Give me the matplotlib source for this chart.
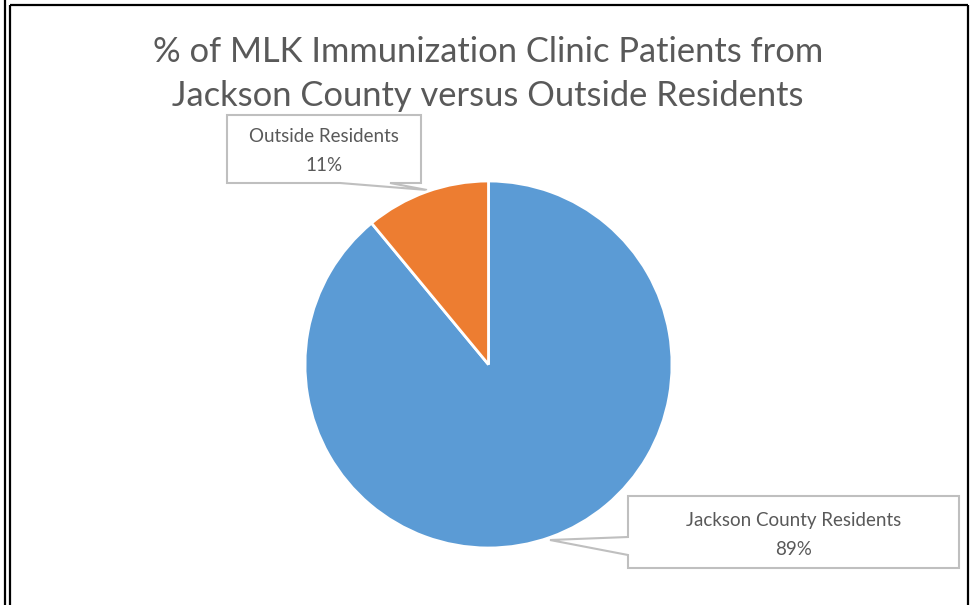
import matplotlib
matplotlib.use("Agg")
import matplotlib.pyplot as plt
from matplotlib.patches import Polygon
from matplotlib.lines import Line2D

labels = ['Jackson County Residents', 'Outside Residents']
shares = [89, 11]
colors = ['#5B9BD5', '#ED7D31']
title = '% of MLK Immunization Clinic Patients from\nJackson County versus Outside Residents'

W, H = 972, 605
TEXT = '#595959'
plt.rcParams['font.family'] = ['Lato', 'DejaVu Sans']

fig = plt.figure(figsize=(W / 100, H / 100), dpi=100)

# overlay in pixel coords (y down) for frame + callouts
ov = fig.add_axes([0, 0, 1, 1])
ov.set_xlim(0, W)
ov.set_ylim(H, 0)
ov.axis('off')

# frame lines
for xs, ys in [([4.5, 4.5], [0, H]), ([9.5, 9.5], [5, H]), ([9.5, 968], [5, 5]), ([968, 968], [5, H])]:
    ov.add_line(Line2D(xs, ys, color='black', lw=1.6, solid_capstyle='butt'))

ov.text(W / 2 + 2, 74, title, ha='center', va='center', fontsize=24.8, color=TEXT, linespacing=1.5)

# pie
cx, cy, r = 488.5, 364.5, 183.5
pax = fig.add_axes([(cx - r) / W, (H - cy - r) / H, 2 * r / W, 2 * r / H])
pax.pie(shares, colors=colors, startangle=90, counterclock=False, radius=1,
        wedgeprops=dict(edgecolor='white', linewidth=2))
pax.set_xlim(-1, 1)
pax.set_ylim(-1, 1)
pax.axis('off')

# callout bubbles
def bubble(pts, text, tx, ty):
    ov.add_patch(Polygon(pts, closed=True, facecolor='white', edgecolor='#BFBFBF', lw=1.5, zorder=3))
    ov.text(tx, ty, text, ha='center', va='center', fontsize=13.5, color=TEXT, linespacing=1.8, zorder=4)

x0, y0, x1, y1 = 227, 115, 421, 183
bubble([(x0, y0), (x1, y0), (x1, y1), (390, y1), (427, 190), (340, y1), (x0, y1)],
       f'{labels[1]}\n{shares[1]}%', (x0 + x1) / 2, (y0 + y1) / 2 + 2)

x0, y0, x1, y1 = 628, 496, 959, 568
bubble([(x0, y0), (x1, y0), (x1, y1), (x0, y1), (x0, 555), (550, 540), (x0, 537)],
       f'{labels[0]}\n{shares[0]}%', (x0 + x1) / 2, (y0 + y1) / 2 + 3)

fig.savefig('out.png', dpi=100)
